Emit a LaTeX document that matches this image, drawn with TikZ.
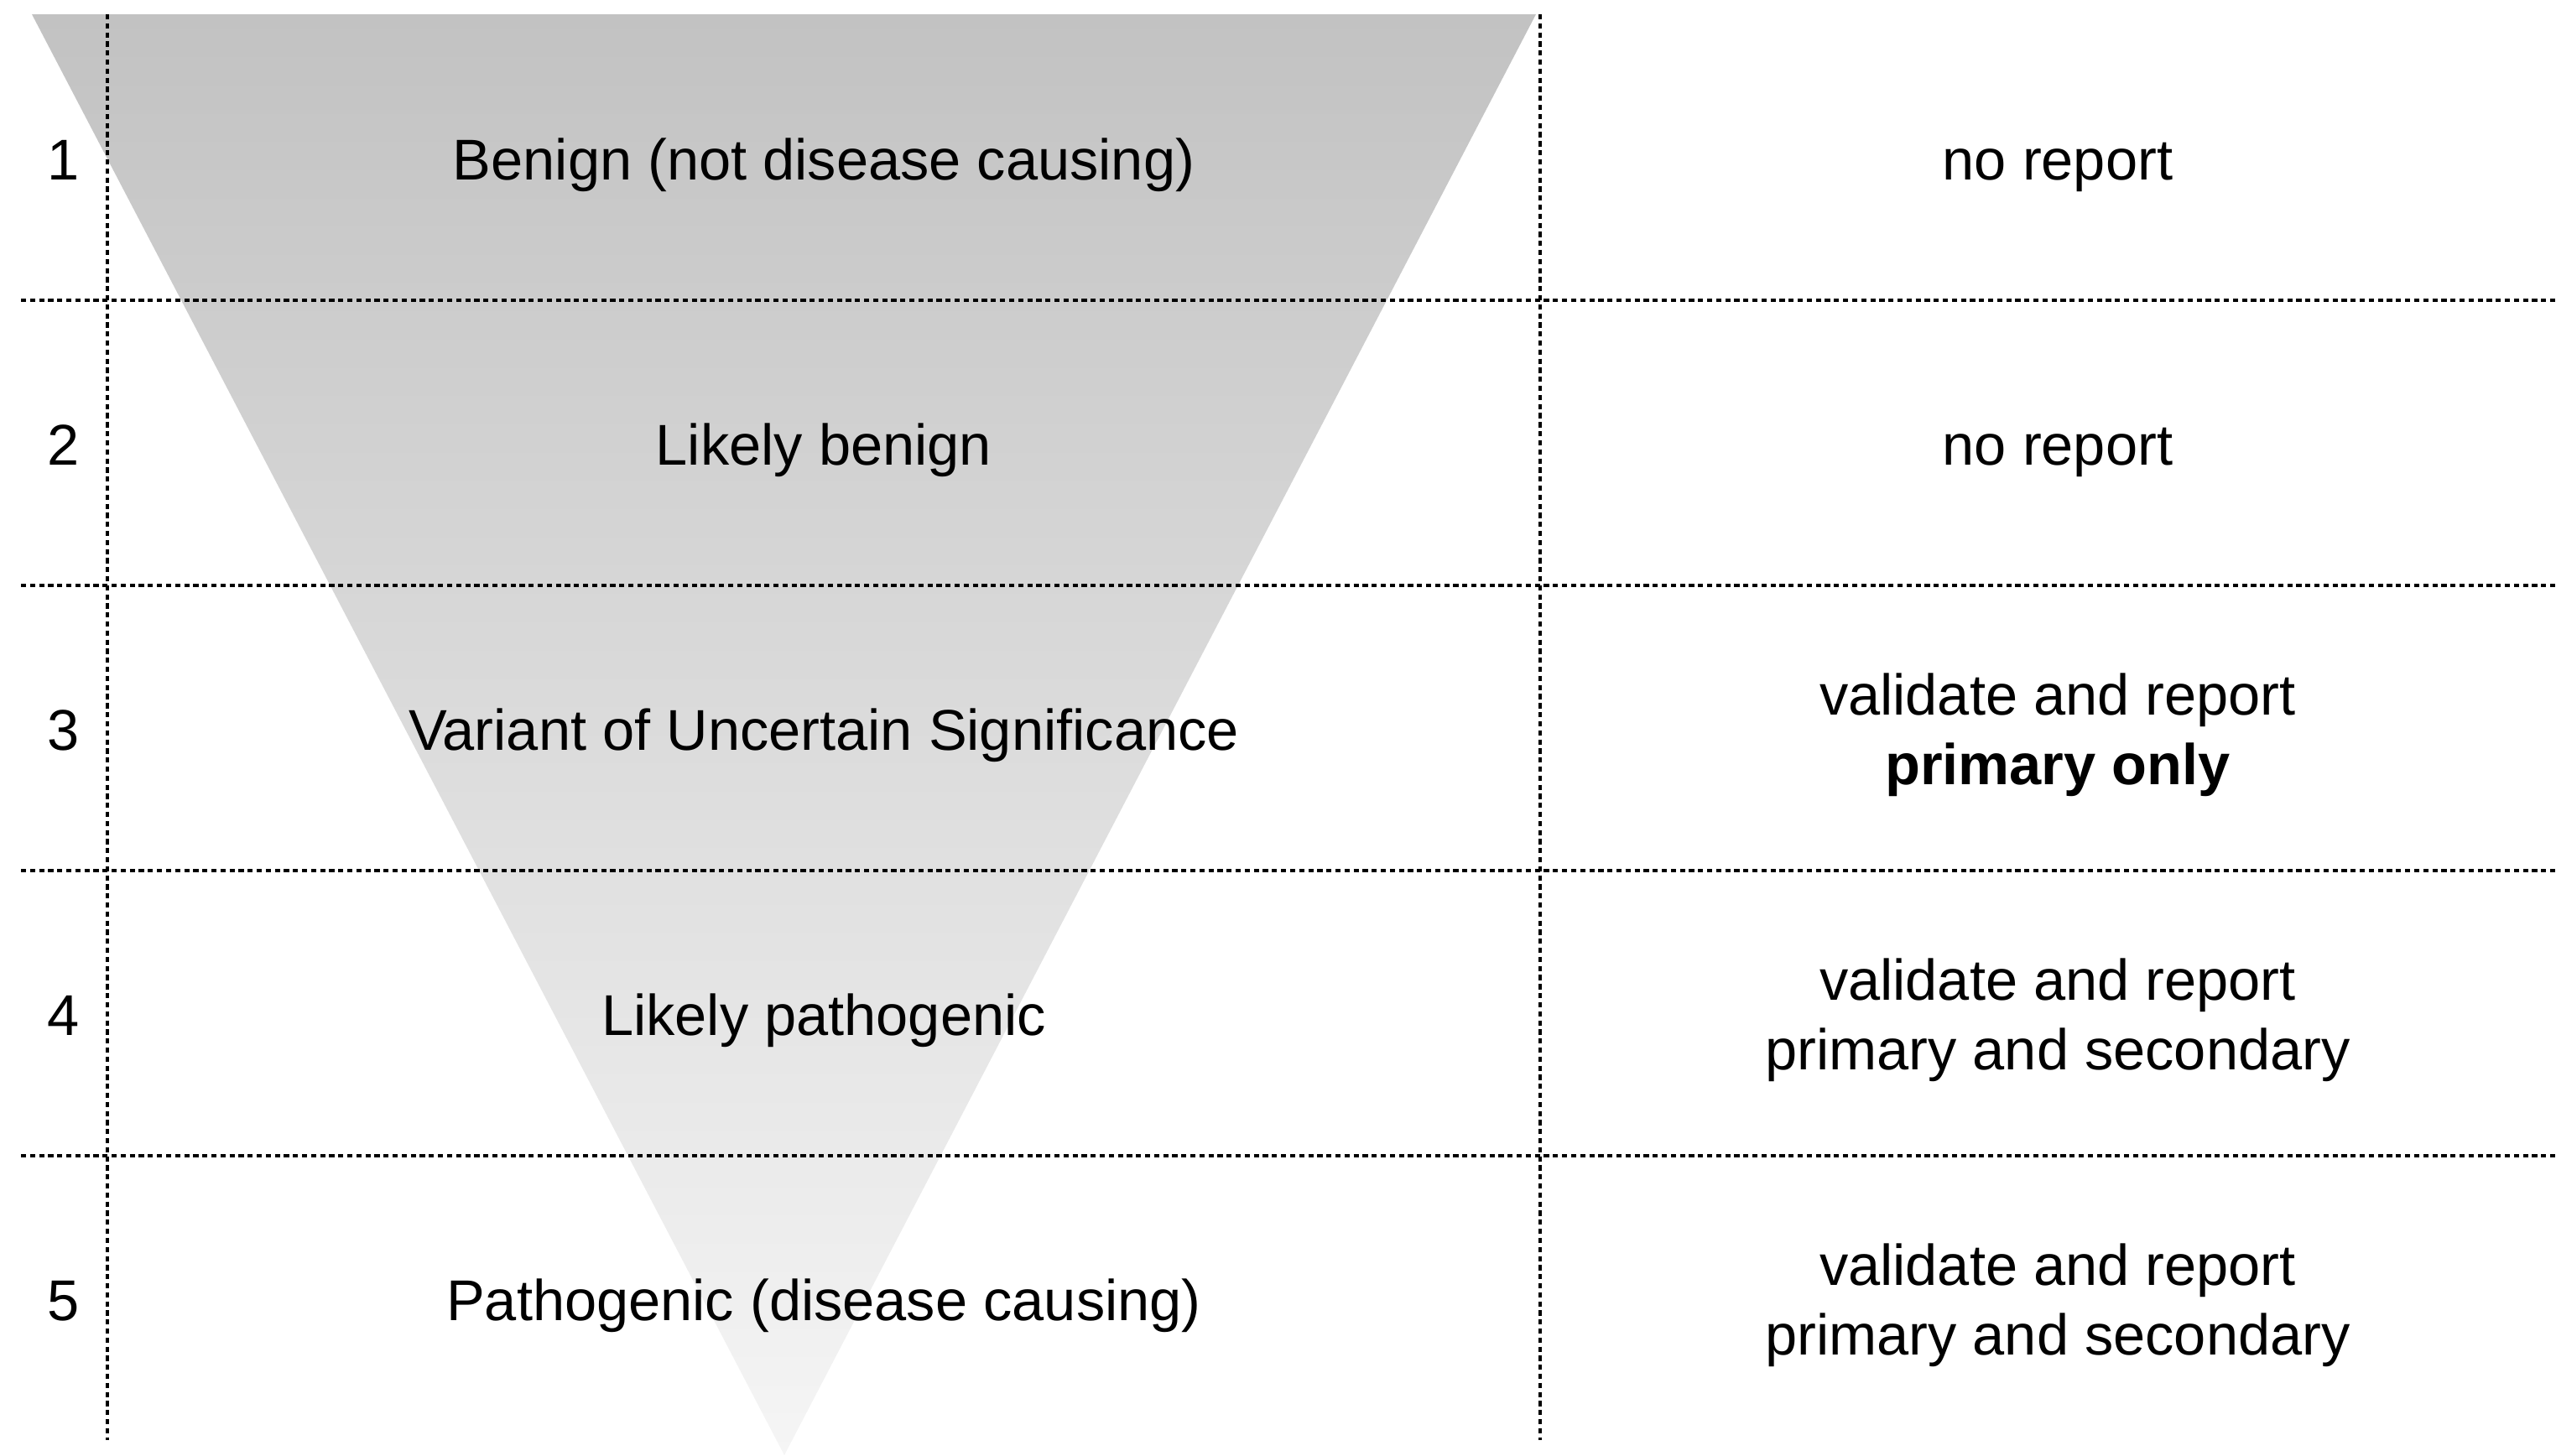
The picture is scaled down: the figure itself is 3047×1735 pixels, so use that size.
\documentclass[tikz,border=0pt]{standalone}
\usepackage{fontspec}
\setmainfont{Liberation Sans}
\definecolor{tritop}{RGB}{194,194,194}
\definecolor{tribot}{RGB}{245,245,245}
\begin{document}
\begin{tikzpicture}[x=0.01cm,y=-0.01cm,
  gridline/.style={line width=0.035cm,dash pattern=on 0.062cm off 0.046cm},
  lbl/.style={font=\fontsize{19.5pt}{23.5pt}\selectfont,anchor=base,inner sep=0pt},
  bold lbl/.style={lbl,font=\fontsize{19.5pt}{23.5pt}\selectfont\bfseries}]
\useasboundingbox (0,0) rectangle (3047,1735);
% funnel
\coordinate (tl) at (38,17);
\coordinate (tr) at (1831,17);
\coordinate (ap) at (935,1735);
\shade[top color=tritop,bottom color=tribot] (tl) -- (tr) -- (ap) -- cycle;
% grid
\coordinate (v1t) at (128,17);   \coordinate (v1b) at (128,1717);
\coordinate (v2t) at (1836,17);  \coordinate (v2b) at (1836,1717);
\foreach \i/\yy in {1/358,2/698,3/1038,4/1378}{
  \coordinate (h\i l) at (25,\yy);
  \coordinate (h\i r) at (3047,\yy);
  \draw[gridline] (h\i l) -- (h\i r);
}
\draw[gridline] (v1t) -- (v1b);
\draw[gridline] (v2t) -- (v2b);
% numbers
\node[lbl] (n1) at (76,214) {1};
\node[lbl] (n2) at (76,554) {2};
\node[lbl] (n3) at (76,894) {3};
\node[lbl] (n4) at (76,1234) {4};
\node[lbl] (n5) at (76,1574) {5};
% classes
\node[lbl] (c1) at (982,214) {Benign (not disease causing)};
\node[lbl] (c2) at (982,554) {Likely benign};
\node[lbl] (c3) at (982,894) {Variant of Uncertain Significance};
\node[lbl] (c4) at (982,1234) {Likely pathogenic};
\node[lbl] (c5) at (982,1574) {Pathogenic (disease causing)};
% actions
\node[lbl] (a1) at (2453,214) {no report};
\node[lbl] (a2) at (2453,554) {no report};
\node[lbl] (a3a) at (2453,852) {validate and report};
\node[bold lbl] (a3b) at (2453,935) {primary only};
\node[lbl] (a4a) at (2453,1192) {validate and report};
\node[lbl] (a4b) at (2453,1275) {primary and secondary};
\node[lbl] (a5a) at (2453,1532) {validate and report};
\node[lbl] (a5b) at (2453,1615) {primary and secondary};
\end{tikzpicture}
\end{document}
